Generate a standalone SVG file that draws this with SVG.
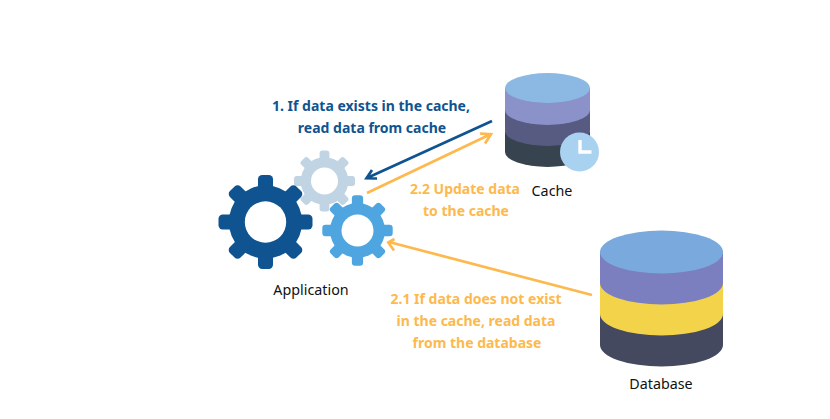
<svg xmlns="http://www.w3.org/2000/svg" xmlns:xlink="http://www.w3.org/1999/xlink" width="830" height="419" viewBox="0 0 830 419">
<style>
text{font-family:"Noto Sans","Open Sans",sans-serif;text-anchor:middle}
.lbl{font-size:14.300px;fill:#111}
.b{font-size:14px;font-weight:700;fill:#0f5490}
.o{font-size:14px;font-weight:700;fill:#fdb94d}
.cb{fill:none;stroke:#0f5490;stroke-width:2.700}
.co{fill:none;stroke:#fdb94d;stroke-width:2.700}
.hole{fill:#fff}
</style>
<defs>
<g id="gear">
<circle r="78"/>
<rect x="-16" y="-100" width="32" height="200" rx="9"/>
<rect x="-16" y="-100" width="32" height="200" rx="9" transform="rotate(45)"/>
<rect x="-16" y="-100" width="32" height="200" rx="9" transform="rotate(90)"/>
<rect x="-16" y="-100" width="32" height="200" rx="9" transform="rotate(135)"/>
</g>
</defs>
<rect width="830" height="419" fill="#fff"/>
<g id="connectors">
<path class="cb" d="M492 121L367 178M372 170L366.500 178.300L377 178.500"/>
<path class="co" d="M367 193L490 134.500M480 133.500L491 134.300L485 143.500"/>
<path class="co" d="M592 295L389 242M394.500 239L388.300 242.500L394 250.500"/>
</g>
<g id="gear-light">
<use xlink:href="#gear" href="#gear" fill="#c0d4e4" transform="translate(324.500 181) scale(.305)"/>
<circle class="hole" cx="324.500" cy="181" r="13.500"/>
</g>
<g id="gear-dark">
<use xlink:href="#gear" href="#gear" fill="#0f5490" transform="translate(265.500 222) scale(.47)"/>
<circle class="hole" cx="265.500" cy="222" r="20.700"/>
</g>
<g id="gear-blue">
<circle cx="357.500" cy="230.500" r="29" fill="#fff"/>
<use xlink:href="#gear" href="#gear" fill="#4ea5df" transform="translate(357.500 230.500) scale(.352)"/>
<circle class="hole" cx="357.500" cy="230.500" r="16"/>
<text class="lbl" x="311" y="295">Application</text>
</g>
<g id="cache">
<path fill="#37444f" d="M505 132V152A42.500 15 0 0 0 590 152V132Z"/>
<path fill="#575b82" d="M505 110V131A42.500 15 0 0 0 590 131V110Z"/>
<path fill="#8a92c9" d="M505 88V110A42.500 15 0 0 0 590 110V88Z"/>
<ellipse cx="547.500" cy="88" rx="42.500" ry="15" fill="#8cb9e3"/>
<circle cx="579.500" cy="152" r="19.500" fill="#a9d1f0"/>
<path d="M580 140V152H591.500" fill="none" stroke="#fff" stroke-width="3.400"/>
<text class="lbl" x="552" y="196">Cache</text>
</g>
<g id="database">
<path fill="#45495f" d="M600 314V345A61.500 21.500 0 0 0 723 345V314Z"/>
<path fill="#f3d34a" d="M600 283V314A61.500 21.500 0 0 0 723 314V283Z"/>
<path fill="#7b7fc0" d="M600 252V283A61.500 21.500 0 0 0 723 283V252Z"/>
<ellipse cx="661.500" cy="252" rx="61.500" ry="21.500" fill="#7aa9dd"/>
<text class="lbl" x="661" y="389">Database</text>
</g>
<g id="labels">
<text class="b" x="371" y="111">1. If data exists in the cache,</text>
<text class="b" x="372" y="133">read data from cache</text>
<text class="o" x="465" y="194">2.2 Update data</text>
<text class="o" x="466" y="216">to the cache</text>
<text class="o" x="476" y="304">2.1 If data does not exist</text>
<text class="o" x="476" y="326">in the cache, read data</text>
<text class="o" x="477" y="348">from the database</text>
</g>
</svg>
